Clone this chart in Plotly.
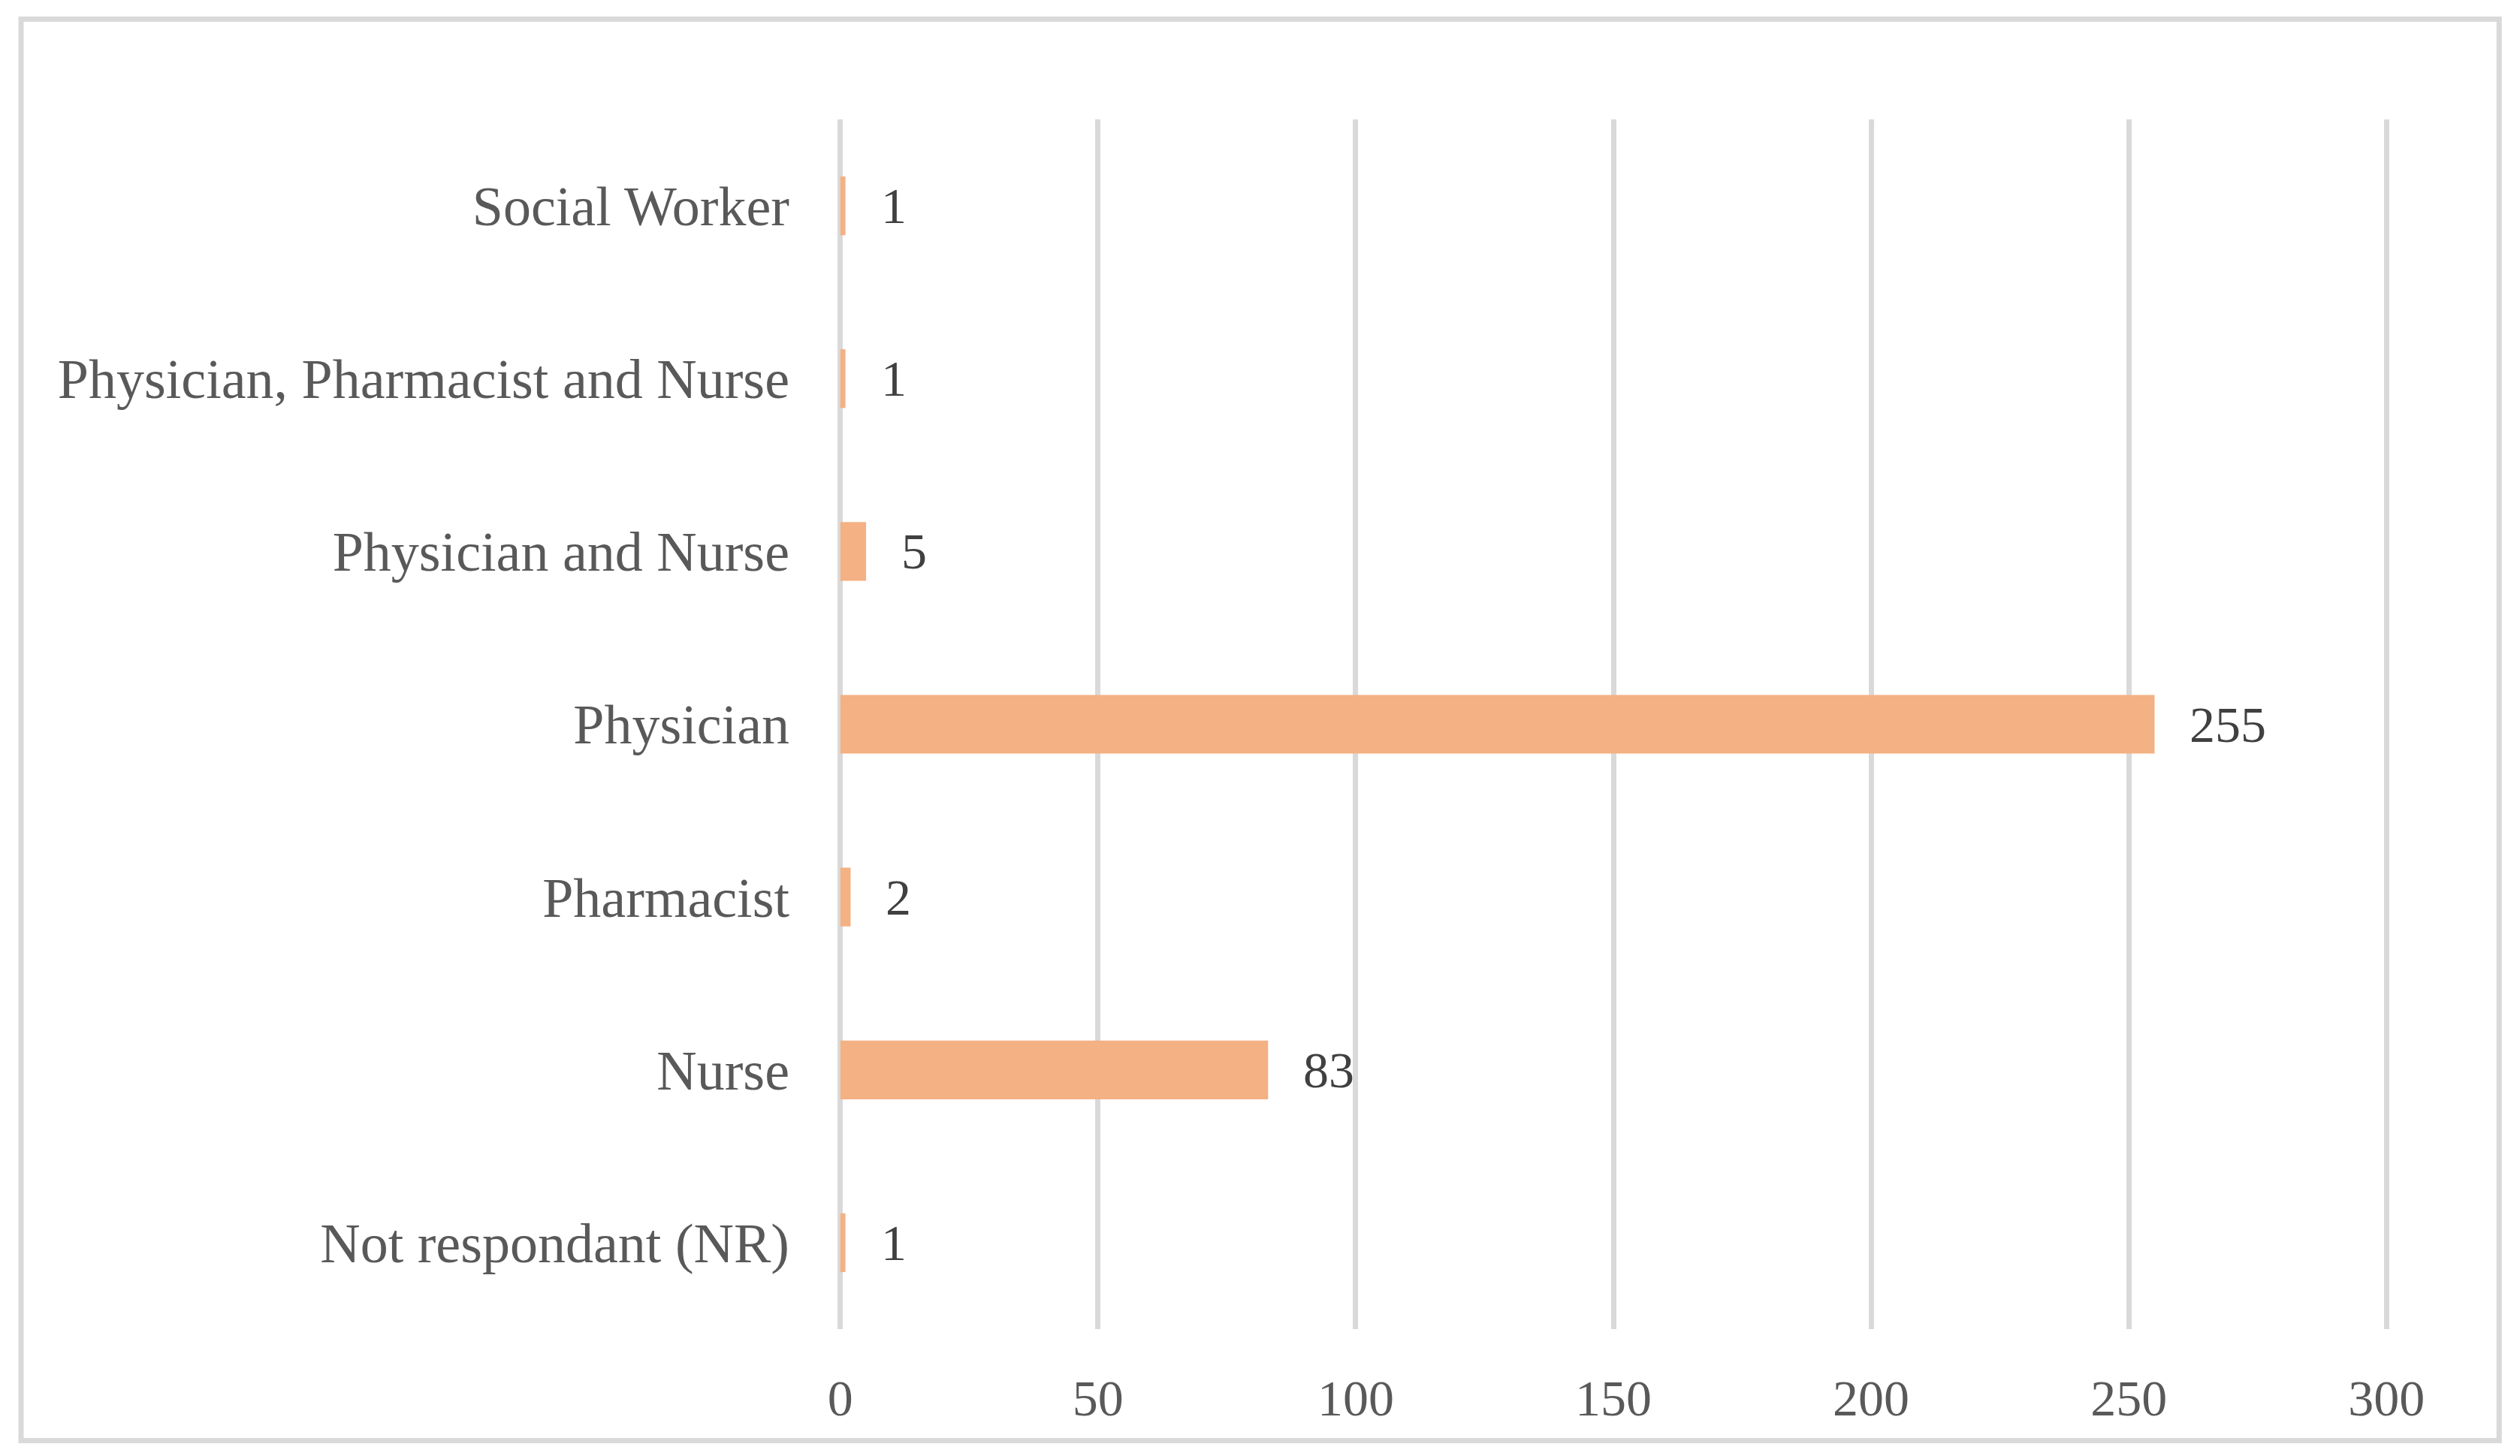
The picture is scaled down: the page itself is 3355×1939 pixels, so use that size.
import plotly.graph_objects as go

categories = ["Not respondant (NR)", "Nurse", "Pharmacist", "Physician",
              "Physician and Nurse", "Physician, Pharmacist and Nurse", "Social Worker"]
values = [1, 83, 2, 255, 5, 1, 1]
x_ticks = [0, 50, 100, 150, 200, 250, 300]

FONT = "Liberation Serif"
OFF = 8                      # default page body margin
W, H = 3355 - OFF, 1939 - OFF

# target plot area in page pixels
PX0, PX1 = 1118.5, 3177.5    # x = 0 .. 300
PY0, PY1 = 159, 1770
XMIN, XMAX = 0, 300
PAD = 0.4                    # small range padding so end gridlines are drawn
ppu = (PX1 - PX0) / (XMAX - XMIN)
L = PX0 - OFF - PAD * ppu
R = W - (PX1 - OFF + PAD * ppu)
T = PY0 - OFF
B = H - (PY1 - OFF)
PW, PH = W - L - R, H - T - B

fig = go.Figure()
fig.add_trace(go.Bar(
    x=values, y=categories, orientation="h",
    marker=dict(color="#F4B183", line=dict(width=0)),
    width=0.34, hoverinfo="skip",
))

for v, c in zip(values, categories):
    fig.add_annotation(x=v, y=c, text=str(v), showarrow=False,
                       xanchor="left", yanchor="middle", xshift=45,
                       font=dict(family=FONT, size=68, color="#404040"))

fig.update_layout(
    width=W, height=H,
    margin=dict(l=L, r=R, t=T, b=B, pad=0),
    paper_bgcolor="white", plot_bgcolor="white",
    showlegend=False,
    xaxis=dict(range=[XMIN - PAD, XMAX + PAD], tickvals=x_ticks,
               ticktext=[str(t) for t in x_ticks],
               showgrid=True, gridcolor="#D9D9D9", gridwidth=7,
               zeroline=False, showline=False, ticks="",
               ticklabelstandoff=46,
               tickfont=dict(family=FONT, size=68, color="#595959")),
    yaxis=dict(categoryorder="array", categoryarray=categories,
               showgrid=False, zeroline=False, showline=False, ticks="",
               ticklabelstandoff=64,
               tickfont=dict(family=FONT, size=74, color="#595959")),
)

# outer chart border (page pixels converted to paper coordinates)
bx0, bx1, by0, by1 = 27.5 - OFF, 3327.5 - OFF, 25.5 - OFF, 1918.5 - OFF
fig.add_shape(type="rect", xref="paper", yref="paper",
              x0=(bx0 - L) / PW, x1=(bx1 - L) / PW,
              y0=1 - (by1 - T) / PH, y1=1 - (by0 - T) / PH,
              line=dict(color="#D9D9D9", width=7), fillcolor="rgba(0,0,0,0)", layer="below")

fig.write_html("out.html")
